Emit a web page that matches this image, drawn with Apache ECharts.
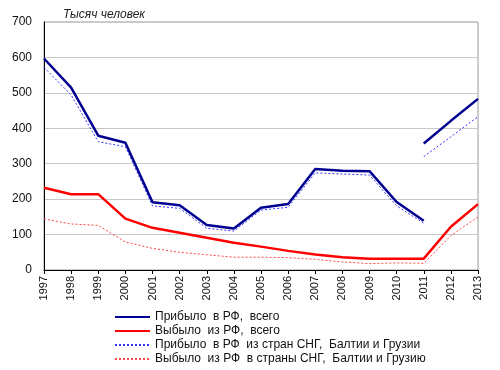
<!DOCTYPE html>
<html><head><meta charset="utf-8">
<script src="https://cdn.jsdelivr.net/npm/echarts@6/dist/echarts.min.js"></script>
<style>html,body{margin:0;padding:0;background:#fff}#c{width:500px;height:370px}</style>
</head><body><div id="c"></div>
<script>
const years = ['1997','1998','1999','2000','2001','2002','2003','2004','2005','2006','2007','2008','2009','2010','2011','2012','2013'];
const arrivedTotalA = [597,515,379,359,191,183,127,117,176,186,285,280,279,192,139,'-','-'];
const arrivedTotalB = ['-','-','-','-','-','-','-','-','-','-','-','-','-','-',357,421,483];
const departedTotal = [232,214,214,145,119,105,91,77,66,54,44,36,32,32,32,122,186];
const arrivedCisA = [572,494,362,348,181,174,118,110,169,177,274,271,268,181,132,'-','-'];
const arrivedCisB = ['-','-','-','-','-','-','-','-','-','-','-','-','-','-',320,376,433];
const departedCis = [144,130,126,79,61,50,43,36,36,35,30,23,18,20,19,97,150];
const names = ['Прибыло  в РФ,  всего','Выбыло  из РФ,  всего','Прибыло  в РФ  из стран СНГ,  Балтии и Грузии','Выбыло  из РФ  в страны СНГ,  Балтии и Грузию'];

const chart = echarts.init(document.getElementById('c'), null, {renderer:'canvas'});
const font = 'Liberation Sans, Arial, sans-serif';
function s(name, data, color, width, type){
  return {name, type:'line', data, symbol:'none', connectNulls:false,
    lineStyle:{color, width, type}, itemStyle:{color}, animation:false};
}
chart.setOption({
  animation:false,
  textStyle:{fontFamily:font},
  title:{text:'Тысяч человек', left:58, top:4, textStyle:{fontSize:12, fontStyle:'italic', fontWeight:'normal', color:'#222', fontFamily:font}},
  grid:{left:44, right:22, top:22, bottom:100, show:true, borderColor:'#999', borderWidth:1},
  legend:{orient:'vertical', left:114, top:310, padding:0, itemWidth:35, itemHeight:8, itemGap:0,
    itemStyle:{color:'transparent', borderColor:'transparent', borderWidth:0, opacity:0},
    data:names, textStyle:{fontSize:12, color:'#111', fontFamily:font, lineHeight:14}},
  xAxis:{type:'category', data:years, boundaryGap:false,
    axisLine:{lineStyle:{color:'#000'}}, axisTick:{show:true, length:4, lineStyle:{color:'#000'}},
    axisLabel:{rotate:90, fontSize:11, color:'#111', margin:6, fontFamily:font}},
  yAxis:{type:'value', min:0, max:700, interval:100,
    axisLine:{show:true, lineStyle:{color:'#000'}}, axisTick:{show:false},
    splitLine:{lineStyle:{color:'#c8c8c8', width:1}},
    axisLabel:{fontSize:12, color:'#111', margin:12, fontFamily:font}},
  series:[
    s(names[2], arrivedCisA, '#3333ff', 1, [2,2]),
    s(names[2], arrivedCisB, '#3333ff', 1, [2,2]),
    s(names[3], departedCis, '#ff4444', 1, [2,2]),
    s(names[0], arrivedTotalA, '#000090', 2.5, 'solid'),
    s(names[0], arrivedTotalB, '#000090', 2.5, 'solid'),
    s(names[1], departedTotal, '#ff0000', 2.5, 'solid')
  ]
});
</script></body></html>
